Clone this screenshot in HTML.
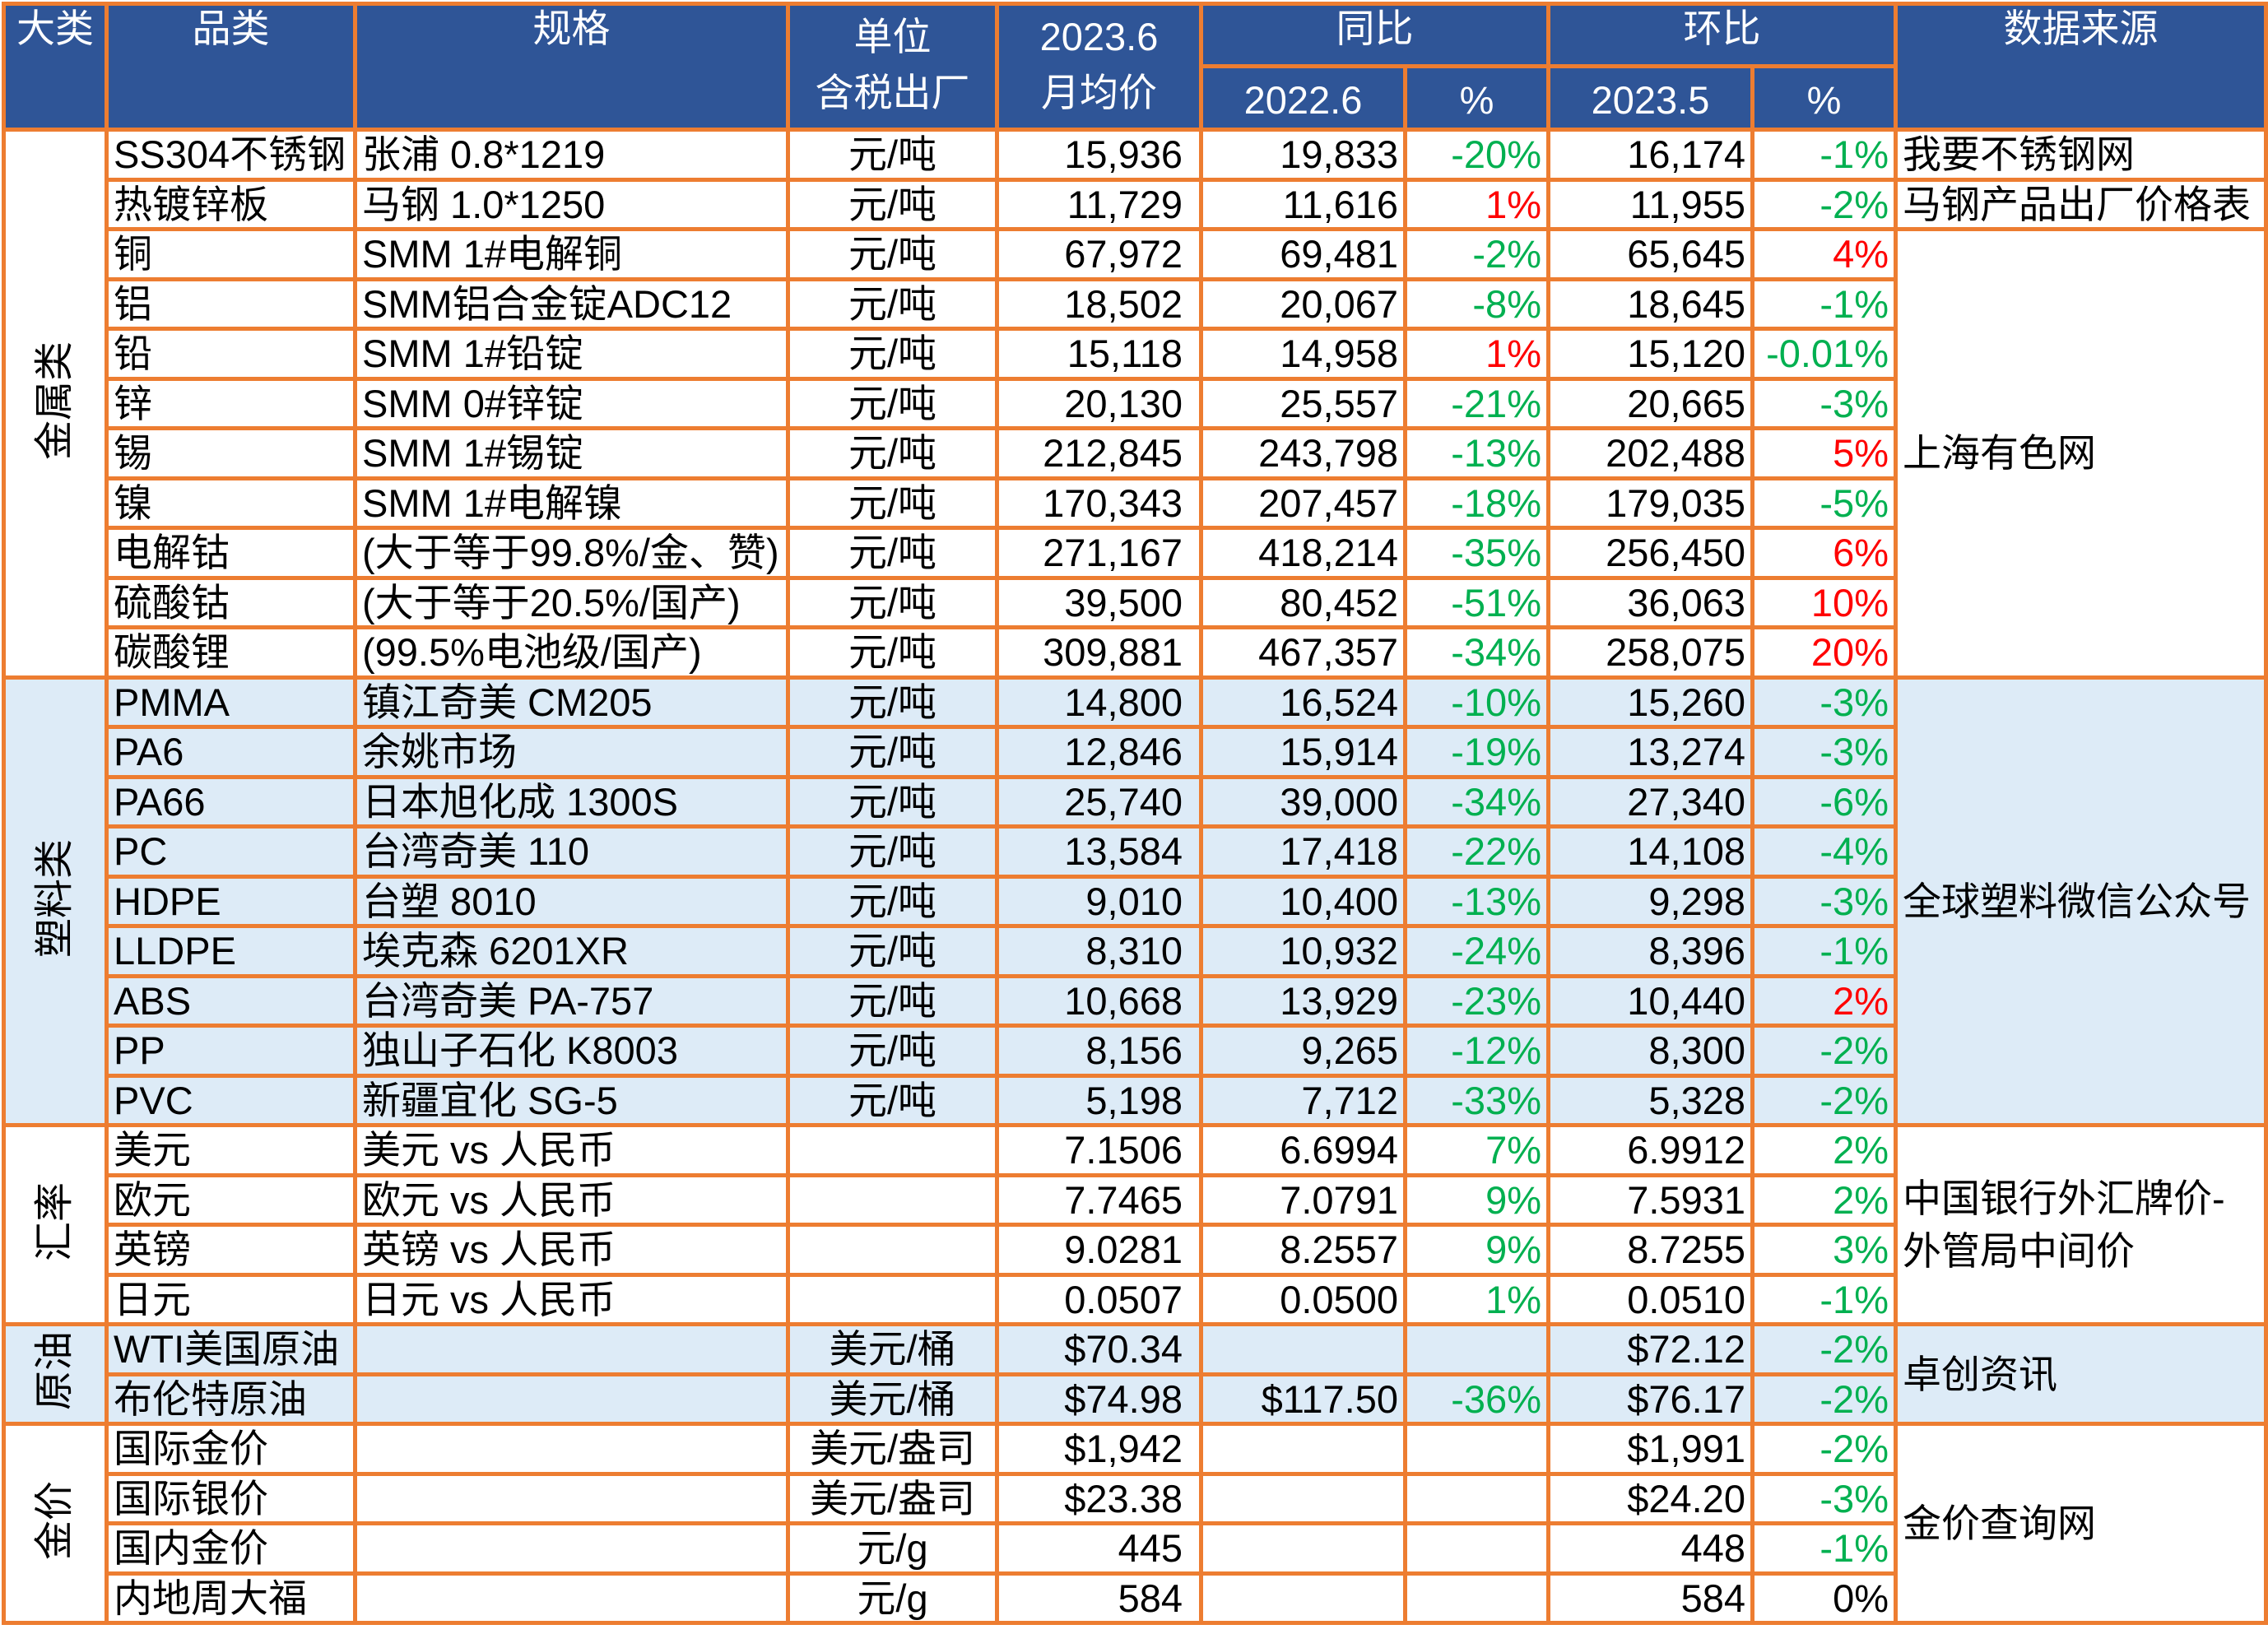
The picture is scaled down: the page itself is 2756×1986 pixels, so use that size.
<!DOCTYPE html>
<html><head><meta charset="utf-8">
<style>
html,body{margin:0;padding:0;background:#fff;width:2756px;height:1986px;overflow:hidden}
table{position:absolute;left:2px;top:2px;border-collapse:collapse;table-layout:fixed;width:2749px;height:1966px;
font-family:"Liberation Sans","Noto Sans CJK SC",sans-serif;font-size:47px;color:#000}
td,th{border:5px solid #ED7D31;padding:0 6px;white-space:nowrap;overflow:hidden;line-height:1}
th{background:#2F5597;color:#fff;font-weight:normal;vertical-align:top;padding-top:4px}
tr.b{height:60.5px}
td{vertical-align:middle}
.r{text-align:right}.c{text-align:center}
td.p{padding-right:20px}
td.q{padding-right:6px}
.g{color:#00B050}.red{color:#FF0000}
.blue td{background:#DDEBF7}
td.cat{text-align:center;padding:0}
td.cat span{display:inline-block;writing-mode:vertical-rl;text-orientation:sideways;transform:rotate(180deg);font-size:48px}
</style></head><body>
<table id="t">
<colgroup><col style="width:125px"><col style="width:302px"><col style="width:526px"><col style="width:254px"><col style="width:248px"><col style="width:248px"><col style="width:174px"><col style="width:248px"><col style="width:174px"><col style="width:450px"></colgroup>
<thead>
<tr style="height:76px">
<th rowspan="2">大类</th>
<th rowspan="2">品类</th>
<th rowspan="2">规格</th>
<th rowspan="2" style="line-height:1.45">单位<br>含税出厂</th>
<th rowspan="2" style="line-height:1.45">2023.6<br>月均价</th>
<th colspan="2">同比</th>
<th colspan="2">环比</th>
<th rowspan="2">数据来源</th>
</tr>
<tr style="height:77px">
<th style="vertical-align:middle">2022.6</th>
<th style="vertical-align:middle">%</th>
<th style="vertical-align:middle">2023.5</th>
<th style="vertical-align:middle">%</th>
</tr>
</thead>
<tbody id="tb"></tbody>
</table>
<script>
const items=["SS304不锈钢","热镀锌板","铜","铝","铅","锌","锡","镍","电解钴","硫酸钴","碳酸锂","PMMA","PA6","PA66","PC","HDPE","LLDPE","ABS","PP","PVC","美元","欧元","英镑","日元","WTI美国原油","布伦特原油","国际金价","国际银价","国内金价","内地周大福"];
const specs=["张浦 0.8*1219","马钢 1.0*1250","SMM 1#电解铜","SMM铝合金锭ADC12","SMM 1#铅锭","SMM 0#锌锭","SMM 1#锡锭","SMM 1#电解镍","(大于等于99.8%/金、赞)","(大于等于20.5%/国产)","(99.5%电池级/国产)","镇江奇美 CM205","余姚市场","日本旭化成 1300S","台湾奇美 110","台塑 8010","埃克森 6201XR","台湾奇美 PA-757","独山子石化 K8003","新疆宜化 SG-5","美元 vs 人民币","欧元 vs 人民币","英镑 vs 人民币","日元 vs 人民币","","","","","",""];
const units=["元/吨","元/吨","元/吨","元/吨","元/吨","元/吨","元/吨","元/吨","元/吨","元/吨","元/吨","元/吨","元/吨","元/吨","元/吨","元/吨","元/吨","元/吨","元/吨","元/吨","","","","","美元/桶","美元/桶","美元/盎司","美元/盎司","元/g","元/g"];
const prices=["15,936","11,729","67,972","18,502","15,118","20,130","212,845","170,343","271,167","39,500","309,881","14,800","12,846","25,740","13,584","9,010","8,310","10,668","8,156","5,198","7.1506","7.7465","9.0281","0.0507","$70.34","$74.98","$1,942","$23.38","445","584"];
const yoyBase=["19,833","11,616","69,481","20,067","14,958","25,557","243,798","207,457","418,214","80,452","467,357","16,524","15,914","39,000","17,418","10,400","10,932","13,929","9,265","7,712","6.6994","7.0791","8.2557","0.0500","","$117.50","","","",""];
const yoyPct=["-20%","1%","-2%","-8%","1%","-21%","-13%","-18%","-35%","-51%","-34%","-10%","-19%","-34%","-22%","-13%","-24%","-23%","-12%","-33%","7%","9%","9%","1%","","-36%","","","",""];
const momBase=["16,174","11,955","65,645","18,645","15,120","20,665","202,488","179,035","256,450","36,063","258,075","15,260","13,274","27,340","14,108","9,298","8,396","10,440","8,300","5,328","6.9912","7.5931","8.7255","0.0510","$72.12","$76.17","$1,991","$24.20","448","584"];
const momPct=["-1%","-2%","4%","-1%","-0.01%","-3%","5%","-5%","6%","10%","20%","-3%","-3%","-6%","-4%","-3%","-1%","2%","-2%","-2%","2%","2%","3%","-1%","-2%","-2%","-2%","-3%","-1%","0%"];
const cats=[["金属类",0,11,false],["塑料类",11,9,true],["汇率",20,4,false],["原油",24,2,true],["金价",26,4,false]];
const sources=[["我要不锈钢网",0,1],["马钢产品出厂价格表",1,1],["上海有色网",2,9],["全球塑料微信公众号",11,9],["中国银行外汇牌价-<br>外管局中间价",20,4],["卓创资讯",24,2],["金价查询网",26,4]];
const pctColor=(v,i,kind)=>{ if(v==="0%"||v==="")return ""; const neg=v[0]==="-";
  if(kind==="yoy"&&i>=20&&i<=23) return "g";
  if(kind==="mom"&&i>=20&&i<=22) return "g";
  return neg?"g":"red"; };
const tb=document.getElementById('tb');
function cell(tr,txt,cls,name){const td=document.createElement('td');td.innerHTML=txt;if(cls)td.className=cls;


tr.appendChild(td);return td;}
items.forEach((it,i)=>{
  const tr=document.createElement('tr');tr.className='b';
  
  
  const cat=cats.find(c=>c[1]<=i&&i<c[1]+c[2]);
  if(cat[3])tr.classList.add('blue');
  if(cat[1]===i){const td=cell(tr,'<span>'+cat[0]+'</span>','cat','category-'+i);td.rowSpan=cat[2];}
  cell(tr,it,'','item-name');
  cell(tr,specs[i],'','spec');
  cell(tr,units[i],'c','unit');
  cell(tr,prices[i],'r p','price-2023-6');
  cell(tr,yoyBase[i],'r q','price-2022-6');
  cell(tr,yoyPct[i],'r q '+pctColor(yoyPct[i],i,'yoy'),'yoy-pct');
  cell(tr,momBase[i],'r q','price-2023-5');
  cell(tr,momPct[i],'r q '+pctColor(momPct[i],i,'mom'),'mom-pct');
  const s=sources.find(x=>x[1]===i);
  if(s){const td=cell(tr,s[0],'','source');td.rowSpan=s[2];if(s[2]>1&&s[0].includes('<br>'))td.style.lineHeight='1.35';}
  tb.appendChild(tr);
});
</script>
</body></html>
